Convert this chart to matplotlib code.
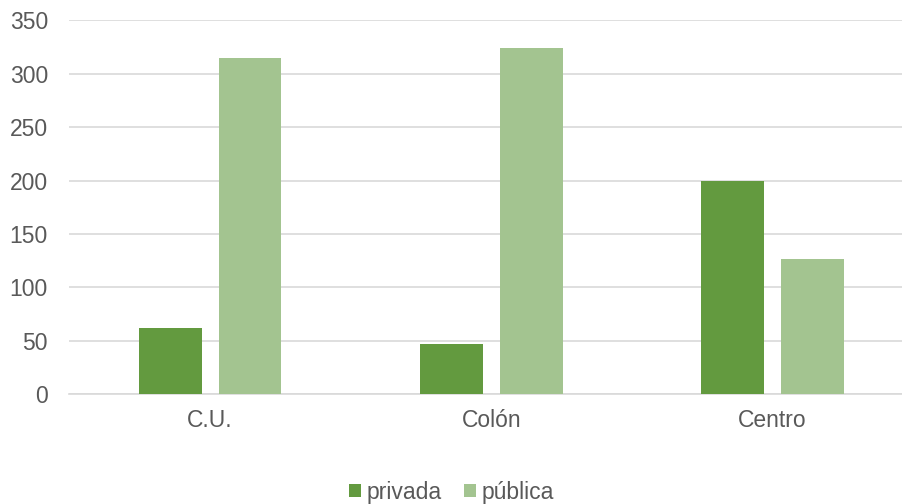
import matplotlib
matplotlib.use("Agg")
import matplotlib.pyplot as plt
import numpy as np

categorias = ["C.U.", "Colón", "Centro"]
privada = [62, 47, 200]
publica = [315, 324, 127]
y_ticks = [0, 50, 100, 150, 200, 250, 300, 350]

plt.rcParams["font.family"] = ["Liberation Sans", "DejaVu Sans"]

W, H = 903, 504
fig = plt.figure(figsize=(W / 100, H / 100), dpi=100)
ax = fig.add_axes([69.5 / W, 1 - 394.3 / H, 843.5 / W, (394.3 - 20.3) / H])

x = np.arange(len(categorias))
width = 0.224
off = 0.142
ax.bar(x - off, privada, width, color="#639a3f", label="privada", zorder=3)
ax.bar(x + off, publica, width, color="#a3c490", label="pública", zorder=3)

ax.set_xlim(-0.5, len(categorias) - 0.5)
ax.set_ylim(0, 350)
ax.set_yticks(y_ticks)
ax.set_xticks(x, categorias)
ax.grid(axis="y", color="#d9d9d9", linewidth=1.2, zorder=0)
ax.set_axisbelow(True)
for s in ["top", "right", "left"]:
    ax.spines[s].set_visible(False)
ax.spines["bottom"].set_color("#d9d9d9")
ax.spines["bottom"].set_linewidth(1.2)
ax.tick_params(axis="both", length=0, labelsize=16.5, colors="#595959")
ax.tick_params(axis="y", pad=15.5)
ax.tick_params(axis="x", pad=10.5)

fig.legend(loc="center", bbox_to_anchor=(0.5, 1 - 492 / H), ncol=2, frameon=False,
           fontsize=16.5, labelcolor="#595959", handlelength=0.52, handleheight=0.52,
           handletextpad=0.22, columnspacing=1.0)

fig.savefig("out.png", dpi=100)
plt.close(fig)
